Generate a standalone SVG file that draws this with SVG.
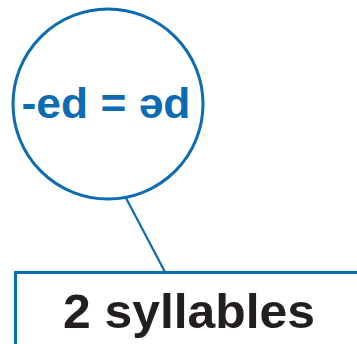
<svg xmlns="http://www.w3.org/2000/svg" width="357" height="344" viewBox="0 0 357 344">
<style>
.blue{stroke:#0b6bb3;fill:none}
.t{font-family:"Liberation Sans",Arial,sans-serif;font-weight:bold}
</style>
<rect width="357" height="344" fill="#ffffff"/>
<g id="connectors">
<line class="blue" x1="126" y1="198" x2="165" y2="272" stroke-width="2.2"/>
</g>
<g id="circle-node">
<circle class="blue" cx="108" cy="104" r="95" stroke-width="3"/>
<text class="t" x="106" y="118" font-size="42" fill="#0b6bb3" text-anchor="middle" textLength="169" lengthAdjust="spacingAndGlyphs">-ed = əd</text>
</g>
<g id="box-node">
<path class="blue" d="M15.5 344 V272.5 H357" stroke-width="3"/>
<text class="t" x="63" y="328" font-size="48" fill="#231f20" textLength="252" lengthAdjust="spacingAndGlyphs">2 syllables</text>
</g>
</svg>
